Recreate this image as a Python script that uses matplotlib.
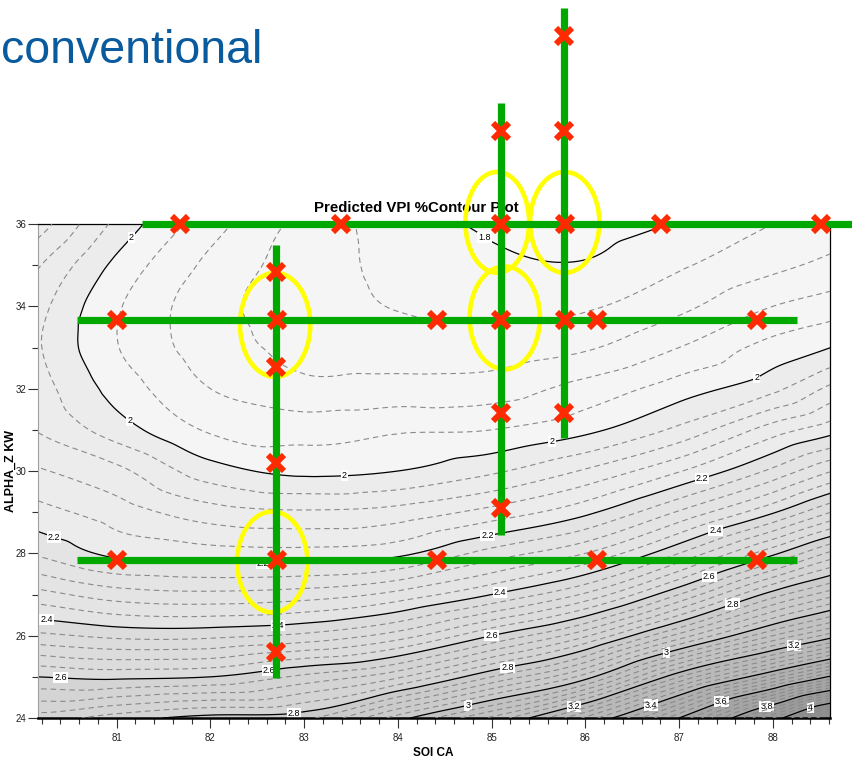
import numpy as np
import matplotlib
matplotlib.use("Agg")
import matplotlib.pyplot as plt
import matplotlib.tri as mtri
from matplotlib.patches import Ellipse
from matplotlib.ticker import MultipleLocator

plt.rcParams['font.family'] = ['Liberation Sans', 'DejaVu Sans']

# ---------------- data ----------------
soi_ca = [80.15, 81, 82, 83, 84, 85, 86, 87, 88, 88.62]
alpha_z_kw = [24, 25, 26, 27, 28, 29, 30, 31, 32, 33, 34, 35, 36]
# predicted VPI %, one row per ALPHA_Z KW value, columns follow soi_ca
predicted_vpi = [
    [2.74, 2.78, 2.815, 2.83, 2.98, 3.13, 3.33, 3.60, 3.96, 4.22],
    [2.60, 2.59, 2.60, 2.65, 2.713, 2.84, 2.98, 3.238, 3.46, 3.61],
    [2.45, 2.43, 2.43, 2.45, 2.50, 2.60, 2.713, 2.895, 3.08, 3.18],
    [2.335, 2.30, 2.29, 2.30, 2.334, 2.40, 2.487, 2.64, 2.82, 2.905],
    [2.235, 2.19, 2.178, 2.175, 2.19, 2.257, 2.32, 2.44, 2.59, 2.69],
    [2.175, 2.14, 2.098, 2.085, 2.096, 2.135, 2.19, 2.285, 2.395, 2.48],
    [2.125, 2.09, 2.018, 1.99, 2.0, 2.033, 2.085, 2.157, 2.25, 2.318],
    [2.078, 2.02, 1.955, 1.945, 1.955, 1.96, 1.99, 2.05, 2.14, 2.184],
    [2.058, 1.985, 1.92, 1.89, 1.895, 1.9, 1.935, 1.98, 2.03, 2.09],
    [2.045, 1.962, 1.9, 1.87, 1.86, 1.858, 1.875, 1.92, 1.975, 2.0],
    [2.055, 1.965, 1.895, 1.862, 1.838, 1.83, 1.835, 1.87, 1.92, 1.94],
    [2.085, 1.99, 1.91, 1.862, 1.828, 1.808, 1.803, 1.835, 1.87, 1.89],
    [2.14, 2.03, 1.937, 1.868, 1.82, 1.795, 1.785, 1.803, 1.84, 1.86],
]

# solid labelled contour levels and their label spots
label_levels = [1.8, 2.0, 2.2, 2.4, 2.6, 2.8, 3.0, 3.2, 3.4, 3.6, 3.8, 4.0]
label_spots = [
    [(84.87, 35.5)],
    [(81.1, 35.78), (81.09, 31.07), (83.43, 29.9), (85.65, 30.63), (87.83, 32.26)],
    [(80.3, 28.2), (82.56, 27.72), (84.96, 28.37), (87.25, 29.78)],
    [(80.25, 26.3), (82.72, 26.26), (85.09, 27.04), (87.4, 28.49)],
    [(80.4, 25.0), (82.63, 25.12), (85.0, 25.97), (87.33, 27.4)],
    [(82.88, 24.32), (85.17, 25.24), (87.57, 26.79)],
    [(84.75, 24.29), (86.87, 25.53)],
    [(85.87, 24.37), (88.21, 25.94)],
    [(86.7, 24.32)],
    [(87.46, 24.34)],
    [(87.93, 24.32)],
    [(88.4, 24.27)],
]

# overlaid design runs (red crosses)
run_soi = [81.68, 83.39, 85.10, 85.78, 86.81, 88.51,
           81.0, 82.71, 84.42, 85.10, 85.78, 86.12, 87.83,
           81.0, 82.71, 84.42, 86.12, 87.83,
           82.70, 82.70, 82.70, 82.70,
           85.10, 85.10, 85.10,
           85.77, 85.77, 85.77]
run_alpha = [36.0, 36.0, 36.0, 36.0, 36.0, 36.0,
             33.67, 33.67, 33.67, 33.67, 33.67, 33.67, 33.67,
             27.84, 27.84, 27.84, 27.84, 27.84,
             34.83, 32.53, 30.19, 25.6,
             38.26, 31.41, 29.1,
             40.57, 38.26, 31.41]

# green sweep lines
sweep_h_alpha = [36.0, 33.67, 27.84]
sweep_h_soi_from = [81.27, 80.58, 80.58]
sweep_h_soi_to = [88.84, 88.26, 88.26]
sweep_v_soi = [82.70, 85.10, 85.77]
sweep_v_alpha_from = [24.97, 28.45, 30.80]
sweep_v_alpha_to = [35.49, 38.94, 41.25]

# yellow rings (centres)
ring_soi = [82.69, 82.66, 85.06, 85.78, 85.14]
ring_alpha = [33.55, 27.79, 36.04, 36.04, 33.72]

# ---------------- figure ----------------
fig = plt.figure(figsize=(8.52, 7.62), dpi=100)
ax = fig.add_axes([38 / 852, 44 / 762, 792 / 852, 494 / 762])

x = np.array(soi_ca)
y = np.array(alpha_z_kw)
Z0 = np.array(predicted_vpi)
Xg, Yg = np.meshgrid(x, y)
tri = mtri.Triangulation(Xg.ravel(), Yg.ravel())
interp = mtri.CubicTriInterpolator(tri, Z0.ravel(), kind='geom')
xf = np.linspace(x[0] + 1e-7, x[-1] - 1e-7, 420)
yf = np.linspace(y[0] + 1e-7, y[-1] - 1e-7, 420)
Xf, Yf = np.meshgrid(xf, yf)
Zf = interp(Xf, Yf)

band_levels = [1.6, 1.8, 2.0, 2.2, 2.4, 2.6, 2.8, 3.0, 3.2, 3.4, 3.6, 3.8, 4.0, 4.2, 4.5]
band_colors = ['#f7f7f7', '#f5f5f5', '#ececec', '#e4e4e4', '#dcdcdc', '#d4d4d4',
               '#cbcbcb', '#c2c2c2', '#b9b9b9', '#afafaf', '#a5a5a5', '#9b9b9b',
               '#909090', '#858585']
ax.contourf(Xf, Yf, Zf, levels=band_levels, colors=band_colors, zorder=1)

all_lv = np.round(1.8 + 0.04 * np.arange(0, 61), 2)
dashed_lv = [v for v in all_lv if abs(v * 5 - round(v * 5)) > 1e-6]
ax.contour(Xf, Yf, Zf, levels=dashed_lv, colors='#8a8a8a', linewidths=0.8,
           linestyles=[(0, (5, 3.5))], zorder=3)


def fmt(v):
    return f"{v:g}"


for lev, spots in zip(label_levels, label_spots):
    cs = ax.contour(Xf, Yf, Zf, levels=[lev], colors='black', linewidths=0.9, zorder=2)
    texts = ax.clabel(cs, manual=spots, inline=True, fmt=fmt, fontsize=6.5,
                      inline_spacing=1, zorder=2.5)
    for t in texts:
        t.set_rotation(0)
        t.set_bbox(dict(facecolor='white', edgecolor='none', pad=0.8))

ax.set_xlim(80.16, 88.61)
ax.set_ylim(24, 36)

# axes styling
ax.xaxis.set_major_locator(MultipleLocator(1))
ax.xaxis.set_minor_locator(MultipleLocator(0.2))
ax.yaxis.set_major_locator(MultipleLocator(2))
ax.yaxis.set_minor_locator(MultipleLocator(1))
ax.tick_params(which='major', direction='out', length=7.2, width=0.8,
               labelsize=7, colors='#333333', labelcolor='#222222')
ax.tick_params(which='minor', direction='out', length=4, width=0.8, colors='#333333')
ax.tick_params(axis='x', pad=3.5)
ax.tick_params(axis='y', pad=1)
for s in ['top', 'right']:
    ax.spines[s].set_linewidth(0.9)
    ax.spines[s].set_color('black')
ax.spines['bottom'].set_linewidth(1.8)
ax.spines['left'].set_linewidth(0.8)
ax.spines['left'].set_color('#a0a0a0')

ax.text(0.5 - 1 / 792, -(753 - 718) / 494, 'SOI CA', transform=ax.transAxes,
        ha='center', va='center', fontsize=8.5, fontweight='bold')
ax.text(-(38 - 11) / 792, 0.5, 'ALPHA_Z KW', transform=ax.transAxes, rotation=90,
        ha='center', va='center', fontsize=9, fontweight='bold')
ax.text((416 - 38) / 792, (718 - 208) / 494, 'Predicted VPI %Contour Plot',
        transform=ax.transAxes, ha='center', va='center', fontsize=10.8,
        fontweight='bold', zorder=1, clip_on=False)

fig.text(0.001, 1 - 63 / 762, 'conventional', ha='left', va='baseline',
         fontsize=33.5, color='#0a5a9e')

# overlays
ring_w = [0.75, 0.75, 0.68, 0.74, 0.75]
ring_h = [2.53, 2.45, 2.45, 2.45, 2.5]
for cx, cy, w, h in zip(ring_soi, ring_alpha, ring_w, ring_h):
    ax.add_patch(Ellipse((cx, cy), w, h, fill=False, edgecolor='#ffff00',
                         linewidth=3.3, zorder=10, clip_on=False))

green = '#00a800'
for yy, x0, x1 in zip(sweep_h_alpha, sweep_h_soi_from, sweep_h_soi_to):
    ax.plot([x0, x1], [yy, yy], color=green, linewidth=5.2, solid_capstyle='butt',
            zorder=11, clip_on=False)
for xx, y0, y1 in zip(sweep_v_soi, sweep_v_alpha_from, sweep_v_alpha_to):
    ax.plot([xx, xx], [y0, y1], color=green, linewidth=5.2, solid_capstyle='butt',
            zorder=11, clip_on=False)

ax.plot(run_soi, run_alpha, linestyle='none', marker='x', markersize=12,
        markeredgewidth=4.3, color='#ff2a00', zorder=12, clip_on=False)

fig.savefig('out.png', dpi=100)
